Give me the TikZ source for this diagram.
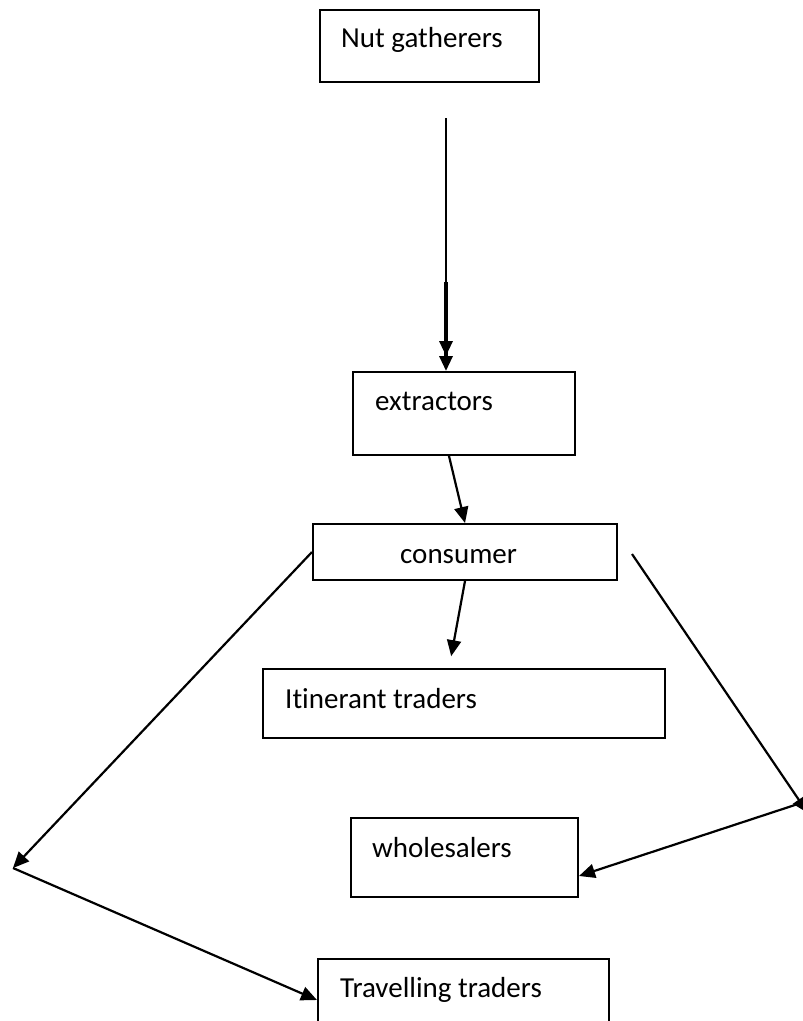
\documentclass[tikz,border=0pt]{standalone}
\usepackage{fontspec}
\setmainfont[Ligatures=NoCommon]{Carlito}
\usetikzlibrary{arrows.meta}
\begin{document}
\begin{tikzpicture}[x=1pt,y=-1pt,
  box/.style={draw, line width=2pt, rectangle, inner sep=0pt},
  lbl/.style={anchor=base west, inner sep=0pt, font=\fontsize{29}{34}\selectfont},
  conn/.style={line width=2.2pt},
  arr/.style={conn, -{Triangle[length=16pt,width=14pt]}},
  darr/.style={line width=3.2pt, -{Triangle[length=15pt,width=13pt] Triangle[length=15pt,width=13pt]}}]
\useasboundingbox (0,0) rectangle (803,1021);
% boxes
\node[box, minimum width=219pt, minimum height=72pt] (ng) at (429.5,46) {};
\node[box, minimum width=222pt, minimum height=83pt] (ex) at (464,413.5) {};
\node[box, minimum width=304pt, minimum height=56pt] (co) at (465,552) {};
\node[box, minimum width=402pt, minimum height=69pt] (it) at (464,703.5) {};
\node[box, minimum width=227pt, minimum height=79pt] (wh) at (464.5,857.5) {};
\node[box, minimum width=291pt, minimum height=100pt] (tr) at (463.5,1009) {};
% labels
\node[lbl] (ngt) at (341,47) {Nut gatherers};
\node[lbl] (ext) at (375,410) {extractors};
\node[lbl] (cot) at (400,563) {consumer};
\node[lbl] (itt) at (285,708) {Itinerant traders};
\node[lbl] (wht) at (372,857) {wholesalers};
\node[lbl] (trt) at (340,997) {Travelling traders};
% free ends
\coordinate (a1) at (446,118);
\coordinate (a2) at (446,282);
\coordinate (L) at (13,868);
\coordinate (R) at (801,803);
% connectors
\draw[conn] (a1) -- (a2);
\draw[darr] (a2) -- ([xshift=-18pt]ex.north);
\draw[arr] ([xshift=-15pt]ex.south) -- (co.north);
\draw[arr, shorten >=12pt] (co.south) -- ([xshift=-15pt]it.north);
\draw[arr] (co.west) -- (L);
\draw[arr] (L) -- ([yshift=9pt]tr.west);
\draw[arr, shorten >=-12pt] ([xshift=14pt,yshift=-2pt]co.east) -- (R);
\draw[arr] (R) -- ([yshift=-18.5pt]wh.east);
\end{tikzpicture}
\end{document}
